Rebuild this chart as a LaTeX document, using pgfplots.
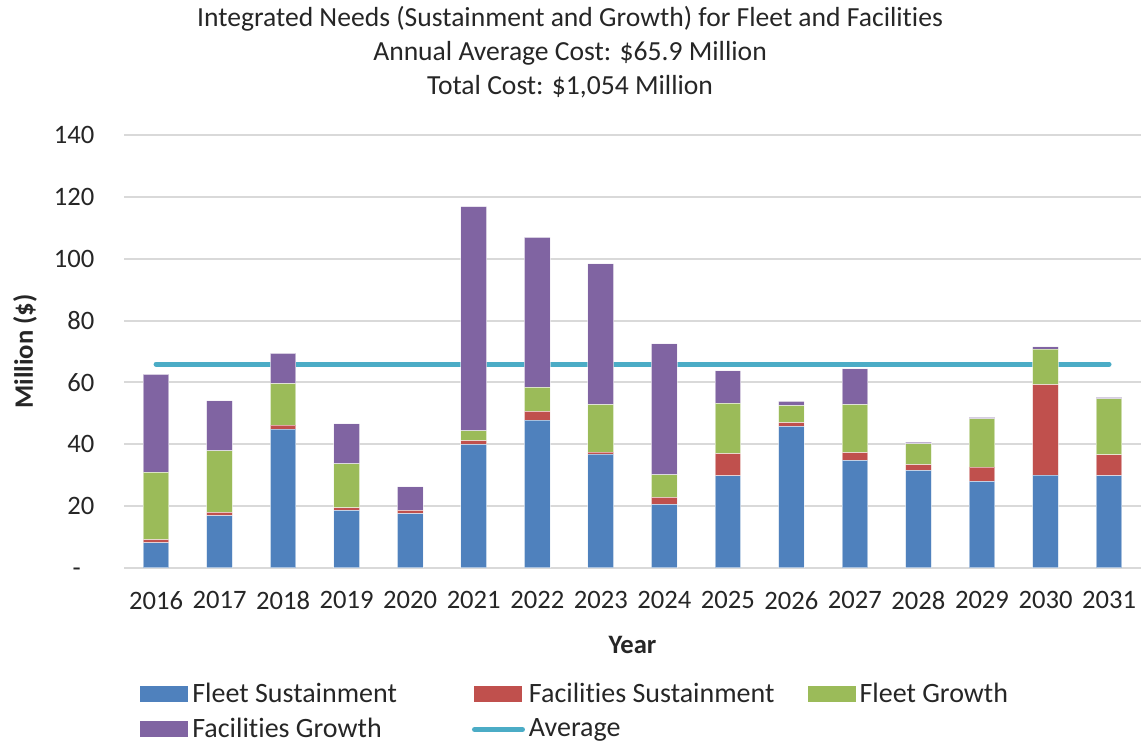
\documentclass[border=0pt]{standalone}
\usepackage{fontspec}
\setmainfont{Carlito}[Ligatures=CommonOff]
\usepackage{pgfplots}
\pgfplotsset{compat=1.18}

\definecolor{fleetS}{HTML}{4F81BD}
\definecolor{facS}{HTML}{C0504D}
\definecolor{fleetG}{HTML}{9BBB59}
\definecolor{facG}{HTML}{8064A2}
\definecolor{avgc}{HTML}{4BACC6}
\definecolor{txt}{HTML}{262626}

\pgfplotsset{
  barleg/.style={legend image code/.code={\path[##1,draw=none] (0pt,-4pt) rectangle (24pt,4pt);}},
  lineleg/.style={legend image code/.code={\draw[##1] (0pt,0pt) -- (24pt,0pt);}},
}

\begin{document}
\begin{tikzpicture}
\useasboundingbox (0,0) rectangle (573pt,371pt);
\begin{axis}[
    at={(62.15pt,87pt)}, anchor=south west,
    scale only axis,
    width=508.25pt, height=216.5pt,
    ybar stacked,
    bar width=12.85pt,
    xmin=-0.5, xmax=15.5,
    ymin=0, ymax=140,
    xtick={0,...,15},
    xticklabels={2016,2017,2018,2019,2020,2021,2022,2023,2024,2025,2026,2027,2028,2029,2030,2031},
    ytick={0,20,...,140},
    yticklabels={{-\phantom{0}},20,40,60,80,100,120,140},
    major tick length=0pt,
    axis x line*=bottom, axis y line*=left,
    x axis line style={draw=gray!30, line width=1pt},
    y axis line style={draw=none},
    ymajorgrids,
    grid style={gray!30, line width=1pt},
    tick label style={font=\fontsize{13.3}{16}\selectfont, text=txt},
    xticklabel style={yshift=-8pt},
    yticklabel style={xshift=-11.5pt},
    /pgf/number format/assume math mode=true,
    xlabel={Year},
    ylabel={Million (\$)},
    xlabel style={font=\bfseries\fontsize{13.3}{16}\selectfont, text=txt, at={(axis description cs:0.5,-0.178)}, anchor=center},
    ylabel style={font=\bfseries\fontsize{13.3}{16}\selectfont, text=txt, at={(axis description cs:-0.0977,0.5)}, anchor=center},
    title={Integrated Needs (Sustainment and Growth) for Fleet and Facilities\\Annual Average Cost: \$65.9 Million\\Total Cost: \$1,054 Million},
    title style={font=\fontsize{13.8}{17}\selectfont, text=txt, align=center, at={(axis description cs:0.4385,1.164)}, anchor=center},
    legend columns=3,
    legend cell align=left,
    legend style={draw=none, fill=none, inner sep=0pt, font=\fontsize{14}{16}\selectfont, text=txt,
      at={(axis description cs:0.0154,-0.255)}, anchor=north west,
      /tikz/every odd column/.append style={column sep=0pt},
      /tikz/column 2/.style={column sep=35.5pt},
      /tikz/column 4/.style={column sep=14.5pt},
      row sep=2.5pt},
]
\addplot[fill=fleetS, draw=white, draw opacity=0.5, line width=0.5pt, barleg] coordinates {
  (0,8.1) (1,16.9) (2,44.9) (3,18.6) (4,17.6) (5,40.0) (6,47.8) (7,36.8)
  (8,20.6) (9,29.8) (10,45.8) (11,34.8) (12,31.6) (13,28.0) (14,30.0) (15,29.9)
};
\addplot[fill=facS, draw=white, draw opacity=0.5, line width=0.5pt, barleg] coordinates {
  (0,1.1) (1,1.1) (2,1.3) (3,0.8) (4,1.0) (5,1.2) (6,2.8) (7,0.7)
  (8,2.2) (9,7.2) (10,1.2) (11,2.5) (12,1.8) (13,4.6) (14,29.3) (15,6.7)
};
\addplot[fill=fleetG, draw=white, draw opacity=0.5, line width=0.5pt, barleg] coordinates {
  (0,21.7) (1,19.9) (2,13.4) (3,14.3) (4,0.0) (5,3.1) (6,7.8) (7,15.3)
  (8,7.3) (9,16.2) (10,5.5) (11,15.5) (12,6.7) (13,15.6) (14,11.5) (15,18.1)
};
\addplot[fill=facG, draw=white, draw opacity=0.5, line width=0.5pt, barleg] coordinates {
  (0,31.7) (1,16.1) (2,9.8) (3,12.9) (4,7.6) (5,72.5) (6,48.5) (7,45.5)
  (8,42.4) (9,10.5) (10,1.4) (11,11.6) (12,0.6) (13,0.5) (14,0.7) (15,0.5)
};
\addplot[sharp plot, stack plots=false, no marks, draw=avgc, line width=2.5pt, line cap=round, lineleg] coordinates {
  (0,65.9) (15,65.9)
};
\legend{Fleet Sustainment, Facilities Sustainment, Fleet Growth, Facilities Growth, Average}
\end{axis}
\end{tikzpicture}
\end{document}
